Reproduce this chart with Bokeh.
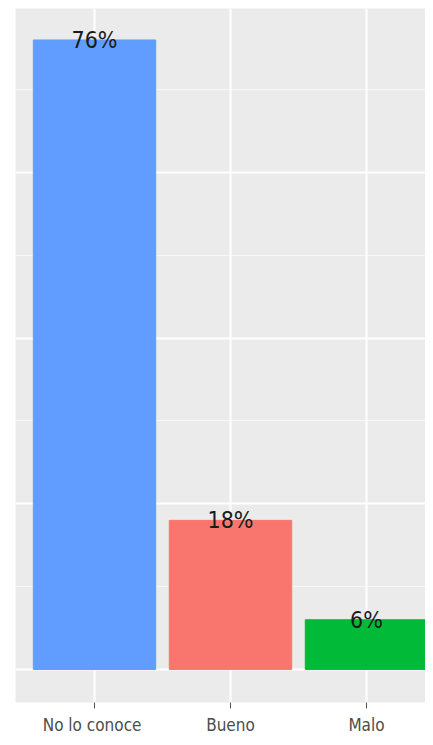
from bokeh.plotting import figure
from bokeh.models import ColumnDataSource, Range1d, FixedTicker
from bokeh.core.properties import value
from bokeh.embed import file_html
from bokeh.resources import INLINE

categories = ["No lo  conoce", "Bueno", "Malo"]
values = [76, 18, 6]
labels = ["76%", "18%", "6%"]
colors = ["#619CFF", "#F8766D", "#00BA38"]

FONT = "'DejaVu Sans Condensed', 'DejaVu Sans', sans-serif"

xs = list(range(len(categories)))
src = ColumnDataSource(dict(x=xs, top=values, label=labels, color=colors))

p = figure(width=425, height=737, output_backend="svg", toolbar_location=None,
           x_range=Range1d(-0.581, 2.434), y_range=Range1d(-3.99, 79.8),
           min_border_left=15, min_border_right=0, min_border_top=8, min_border_bottom=0)
p.background_fill_color = "#EBEBEB"
p.border_fill_color = "white"
p.outline_line_color = None

p.vbar(x="x", top="top", bottom=0, width=0.9, color="color", source=src)
p.text(x="x", y="top", text="label", source=src, text_align="center",
       text_baseline="middle", text_font=value(FONT),
       text_font_size="23px", text_color="#1a1a1a")

p.yaxis.visible = False
p.ygrid.ticker = FixedTicker(ticks=[0, 20, 40, 60, 80], minor_ticks=[10, 30, 50, 70])
p.ygrid.grid_line_color = "white"
p.ygrid.grid_line_width = 2
p.ygrid.minor_grid_line_color = "white"
p.ygrid.minor_grid_line_width = 1
p.ygrid.minor_grid_line_alpha = 0.6

p.xaxis.ticker = FixedTicker(ticks=xs)
p.xaxis.major_label_overrides = {i: c for i, c in enumerate(categories)}
p.xaxis.axis_line_color = None
p.xaxis.major_tick_line_color = "#555555"
p.xaxis.major_tick_out = 6
p.xaxis.major_tick_in = 0
p.xaxis.minor_tick_line_color = None
p.xaxis.major_label_text_font = FONT
p.xaxis.major_label_text_font_size = "17px"
p.xaxis.major_label_text_color = "#4D4D4D"
p.xaxis.major_label_standoff = 6
p.xgrid.ticker = FixedTicker(ticks=xs)
p.xgrid.grid_line_color = "white"
p.xgrid.grid_line_width = 2

open("out.html", "w").write(file_html(p, INLINE))
